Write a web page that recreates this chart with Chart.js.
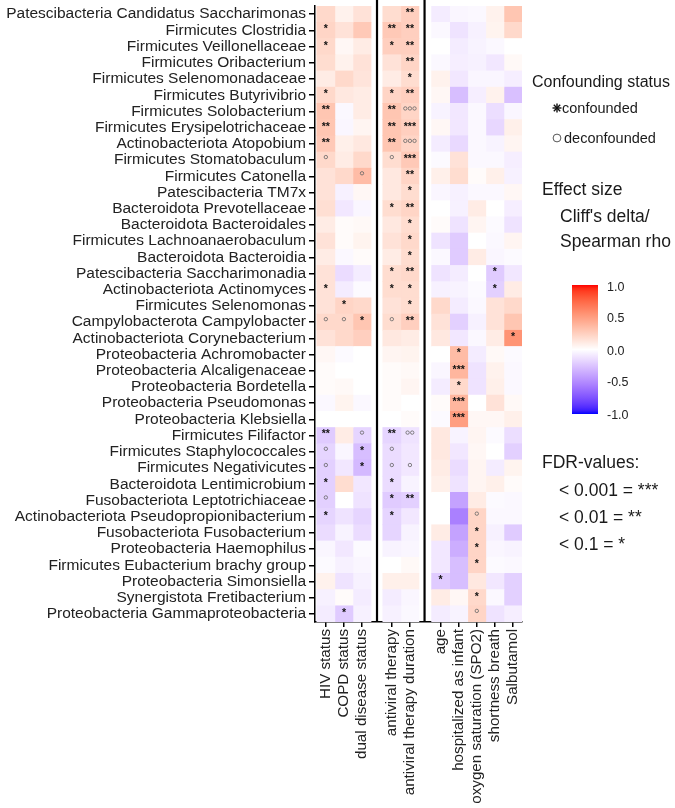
<!DOCTYPE html>
<html lang="en">
<head>
<meta charset="UTF-8" />
<title>Taxa effect sizes</title>
<script src="https://cdn.jsdelivr.net/npm/chart.js"></script>
<style>
  body { margin: 0; background: #fff; font-family: "Liberation Sans", Arial, sans-serif; color: #1a1a1a; }
  #wrap { position: relative; width: 675px; height: 808px; }
  .lg { position: absolute; white-space: nowrap; line-height: 1; transform: translateY(-50%); }
  .big { font-size: 17.5px; }
  .mid { font-size: 14.5px; }
  .cb { font-size: 12.5px; color: #222; }
  #bar { position: absolute; left: 572px; top: 285px; width: 26px; height: 129px; }
</style>
</head>
<body>
<div id="wrap">
  <canvas id="heat"></canvas>

  <div class="lg" style="left:532px; top:82px; font-size:16px;">Confounding status</div>
  <svg class="lg" style="left:552px; top:108px;" width="10" height="10" viewBox="-5 -5 10 10">
    <g stroke="#111" stroke-width="1.4">
      <line x1="-4.5" y1="0" x2="4.5" y2="0"/><line x1="0" y1="-4.5" x2="0" y2="4.5"/>
      <line x1="-3.2" y1="-3.2" x2="3.2" y2="3.2"/><line x1="-3.2" y1="3.2" x2="3.2" y2="-3.2"/>
    </g>
  </svg>
  <div class="lg mid" style="left:562px; top:108px;">confounded</div>
  <svg class="lg" style="left:552px; top:138px;" width="10" height="10" viewBox="-5 -5 10 10">
    <circle r="3.9" fill="none" stroke="#444" stroke-width="0.9"/>
  </svg>
  <div class="lg mid" style="left:564px; top:138px;">deconfounded</div>

  <div class="lg big" style="left:542px; top:190px;">Effect size</div>
  <div class="lg big" style="left:560px; top:217px;">Cliff's delta/</div>
  <div class="lg big" style="left:560px; top:242px;">Spearman rho</div>

  <div id="bar"></div>
  <div class="lg cb" style="left:607px; top:287px;">1.0</div>
  <div class="lg cb" style="left:607px; top:318px;">0.5</div>
  <div class="lg cb" style="left:607px; top:351px;">0.0</div>
  <div class="lg cb" style="left:607px; top:382px;">-0.5</div>
  <div class="lg cb" style="left:607px; top:415px;">-1.0</div>

  <div class="lg big" style="left:542px; top:463px;">FDR-values:</div>
  <div class="lg big" style="left:559px; top:491px;">&lt; 0.001 = ***</div>
  <div class="lg big" style="left:559px; top:518px;">&lt; 0.01 = **</div>
  <div class="lg big" style="left:559px; top:545px;">&lt; 0.1 = *</div>
</div>

<script>
// ---- data ----
const taxa = [
  'Patescibacteria Candidatus Saccharimonas', 'Firmicutes Clostridia', 'Firmicutes Veillonellaceae',
  'Firmicutes Oribacterium', 'Firmicutes Selenomonadaceae', 'Firmicutes Butyrivibrio',
  'Firmicutes Solobacterium', 'Firmicutes Erysipelotrichaceae', 'Actinobacteriota Atopobium',
  'Firmicutes Stomatobaculum', 'Firmicutes Catonella', 'Patescibacteria TM7x',
  'Bacteroidota Prevotellaceae', 'Bacteroidota Bacteroidales', 'Firmicutes Lachnoanaerobaculum',
  'Bacteroidota Bacteroidia', 'Patescibacteria Saccharimonadia', 'Actinobacteriota Actinomyces',
  'Firmicutes Selenomonas', 'Campylobacterota Campylobacter', 'Actinobacteriota Corynebacterium',
  'Proteobacteria Achromobacter', 'Proteobacteria Alcaligenaceae', 'Proteobacteria Bordetella',
  'Proteobacteria Pseudomonas', 'Proteobacteria Klebsiella', 'Firmicutes Filifactor',
  'Firmicutes Staphylococcales', 'Firmicutes Negativicutes', 'Bacteroidota Lentimicrobium',
  'Fusobacteriota Leptotrichiaceae', 'Actinobacteriota Pseudopropionibacterium', 'Fusobacteriota Fusobacterium',
  'Proteobacteria Haemophilus', 'Firmicutes Eubacterium brachy group', 'Proteobacteria Simonsiella',
  'Synergistota Fretibacterium', 'Proteobacteria Gammaproteobacteria'
];

const colLabels = ['HIV status', 'COPD status', 'dual disease status',
  'antiviral therapy', 'antiviral therapy duration',
  'age', 'hospitalized as infant', 'oxygen saturation (SPO2)', 'shortness breath', 'Salbutamol'];

// effect size per column, one value per taxon (top to bottom)
const hivStatus = [0.2,0.22,0.2,0.18,0.1,0.2,0.3,0.3,0.28,0.2,0.15,0.15,0.17,0.1,0.15,0.1,0.15,0.15,0.15,0.2,
  0.15,0.04,0.02,0.02,-0.03,0,-0.22,-0.18,-0.2,-0.2,-0.2,-0.18,-0.15,-0.04,-0.02,0.07,-0.06,-0.08];
const copdStatus = [0.07,0.15,0.04,0.07,0.2,0.12,-0.03,-0.04,0.08,0.1,0.2,-0.06,-0.1,0.02,0.02,-0.03,-0.15,-0.08,0.22,0.2,
  0.2,-0.02,0,0.03,0.06,0,0.1,-0.04,-0.1,0.18,0,-0.12,-0.05,-0.1,-0.06,-0.12,0.02,-0.22];
const dualStatus = [0.15,0.28,0.1,0.15,0.14,0.1,0.1,0.05,0.12,0.2,0.35,0.04,-0.04,0.03,0.06,0.02,-0.08,-0.02,0.2,0.3,
  0.25,0,0,0,-0.03,0,-0.18,-0.28,-0.3,-0.1,-0.12,-0.18,-0.15,-0.02,-0.04,-0.06,-0.08,-0.06];
const antiviral = [0.18,0.28,0.25,0.15,0.1,0.22,0.3,0.3,0.3,0.18,0.12,0.12,0.18,0.12,0.15,0.1,0.18,0.18,0.15,0.18,
  0.12,0.05,0.02,0.02,0.02,0,-0.18,-0.15,-0.15,-0.15,-0.22,-0.18,-0.18,-0.05,0,0.08,-0.08,-0.06];
const antiviralDur = [0.25,0.25,0.25,0.22,0.18,0.25,0.22,0.25,0.22,0.28,0.22,0.18,0.22,0.18,0.2,0.18,0.2,0.18,0.18,0.25,
  0.1,0.06,0.03,0.05,0,0.02,-0.12,-0.1,-0.1,-0.05,-0.2,-0.1,-0.05,-0.04,0.03,0.08,-0.04,-0.03];
const age = [-0.08,-0.03,0,-0.03,0.07,0.04,-0.05,0.04,-0.08,-0.02,0.08,-0.04,0,0.02,-0.12,-0.03,-0.12,-0.06,0.2,0.15,
  0.12,0,-0.04,-0.08,0.02,-0.02,0.12,0.12,0.1,0.08,0,0,0.1,-0.1,-0.1,-0.22,0.1,-0.08];
const hospitalized = [-0.04,-0.12,-0.08,-0.07,-0.1,-0.28,-0.1,-0.1,-0.16,0.15,0.18,-0.06,-0.06,-0.12,-0.22,-0.22,-0.08,-0.05,-0.08,-0.2,
  -0.1,0.35,0.38,0.2,0.38,0.5,-0.05,-0.1,-0.15,-0.12,-0.4,-0.55,-0.4,-0.35,-0.28,-0.28,0.04,-0.05];
const spo2 = [-0.03,-0.06,-0.05,-0.06,-0.04,-0.07,-0.03,-0.03,-0.03,-0.03,0.02,-0.03,0.1,0.05,0,0.1,0,-0.02,-0.03,-0.06,
  -0.03,-0.08,-0.12,-0.12,0,0.04,0.05,0.04,0.05,0.05,0.1,0.22,0.22,0.22,0.22,0.12,0.2,0.22];
const shortBreath = [0.07,0.06,-0.03,-0.1,-0.04,0.07,-0.14,-0.17,-0.05,-0.03,0.08,-0.03,0,-0.02,-0.03,-0.04,-0.22,-0.2,0.15,0.15,
  0.1,0.03,0.07,0.08,0.15,0.04,-0.02,0,-0.08,0.08,-0.02,-0.03,-0.06,-0.04,-0.02,-0.1,-0.03,-0.12];
const salbutamol = [0.3,0.2,0,0.03,-0.07,-0.27,-0.04,0.08,0.05,-0.07,-0.06,0.04,-0.07,-0.12,0.05,-0.02,-0.1,0.1,0.2,0.3,
  0.55,-0.02,-0.03,-0.03,0.03,0.08,-0.14,-0.2,0.06,0.02,-0.03,-0.03,-0.22,-0.05,-0.03,-0.2,-0.2,-0.07];

// significance marks per column, keyed by taxon row (1 = top); o = deconfounded
const hivMarks = {2:'*',3:'*',6:'*',7:'**',8:'**',9:'**',10:'o',18:'*',20:'o',27:'**',28:'o',29:'o',30:'*',31:'o',32:'*'};
const copdMarks = {19:'*',20:'o',38:'*'};
const dualMarks = {11:'o',20:'*',27:'o',28:'*',29:'*'};
const antiviralMarks = {2:'**',3:'*',6:'*',7:'**',8:'**',9:'**',10:'o',13:'*',17:'*',18:'*',20:'o',27:'**',28:'o',29:'o',30:'*',31:'*',32:'*'};
const antiviralDurMarks = {1:'**',2:'**',3:'**',4:'**',5:'*',6:'**',7:'ooo',8:'***',9:'ooo',10:'***',11:'**',12:'*',13:'**',
  14:'*',15:'*',16:'*',17:'**',18:'*',19:'*',20:'**',27:'oo',29:'o',31:'**'};
const ageMarks = {36:'*'};
const hospitalizedMarks = {22:'*',23:'***',24:'*',25:'***',26:'***'};
const spo2Marks = {32:'o',33:'*',34:'*',35:'*',37:'*',38:'o'};
const shortBreathMarks = {17:'*',18:'*'};
const salbutamolMarks = {21:'*'};

const effects = [hivStatus, copdStatus, dualStatus, antiviral, antiviralDur, age, hospitalized, spo2, shortBreath, salbutamol];
const marks = [hivMarks, copdMarks, dualMarks, antiviralMarks, antiviralDurMarks, ageMarks, hospitalizedMarks, spo2Marks, shortBreathMarks, salbutamolMarks];

// ---- layout of the three panels on one linear axis ----
const colX = [0, 1, 2, 3.65, 4.65, 6.35, 7.35, 8.35, 9.35, 10.35];
const panelBreaks = [2.83, 5.46];

// blue - white - red, interpolated in Lab like ggplot's gradient2
function toLin(c) { c /= 255; return c <= 0.04045 ? c / 12.92 : Math.pow((c + 0.055) / 1.055, 2.4); }
function toSrgb(c) { c = c <= 0.0031308 ? 12.92 * c : 1.055 * Math.pow(c, 1 / 2.4) - 0.055; return Math.round(Math.max(0, Math.min(1, c)) * 255); }
function rgbToLab(rgb) {
  const [r, g, b] = rgb.map(toLin);
  const X = (0.4124564 * r + 0.3575761 * g + 0.1804375 * b) / 0.95047;
  const Y = 0.2126729 * r + 0.7151522 * g + 0.0721750 * b;
  const Z = (0.0193339 * r + 0.1191920 * g + 0.9503041 * b) / 1.08883;
  const f = t => t > 0.008856 ? Math.cbrt(t) : 7.787 * t + 16 / 116;
  return [116 * f(Y) - 16, 500 * (f(X) - f(Y)), 200 * (f(Y) - f(Z))];
}
function labToRgb([L, A, B]) {
  const fy = (L + 16) / 116, fx = fy + A / 500, fz = fy - B / 200;
  const inv = t => t * t * t > 0.008856 ? t * t * t : (t - 16 / 116) / 7.787;
  const X = inv(fx) * 0.95047, Y = inv(fy), Z = inv(fz) * 1.08883;
  const r = 3.2404542 * X - 1.5371385 * Y - 0.4985314 * Z;
  const g = -0.9692660 * X + 1.8760108 * Y + 0.0415560 * Z;
  const b = 0.0556434 * X - 0.2040259 * Y + 1.0572252 * Z;
  return [toSrgb(r), toSrgb(g), toSrgb(b)];
}
const labWhite = rgbToLab([255, 255, 255]), labRed = rgbToLab([255, 0, 0]), labBlue = rgbToLab([0, 0, 255]);
function fillFor(v) {
  v = Math.max(-1, Math.min(1, v));
  const end = v >= 0 ? labRed : labBlue, t = Math.abs(v);
  const c = labToRgb(labWhite.map((w, i) => w + t * (end[i] - w)));
  return `rgb(${c[0]},${c[1]},${c[2]})`;
}

// colour bar
const stops = [];
for (let i = 0; i <= 40; i++) { const v = -1 + i / 20; stops.push(`${fillFor(v)} ${(i / 40 * 100).toFixed(1)}%`); }
document.getElementById('bar').style.background = `linear-gradient(to top, ${stops.join(',')})`;

const fontFamily = '"Liberation Sans", Arial, sans-serif';

const overlay = {
  id: 'overlay',
  afterDatasetsDraw(chart) {
    const { ctx, chartArea: a, scales: { x, y } } = chart;
    ctx.save();
    marks.forEach((m, c) => {
      Object.entries(m).forEach(([row, mk]) => {
        const px = x.getPixelForValue(colX[c]);
        const py = y.getPixelForValue(+row - 1);
        if (mk[0] === '*') {
          ctx.font = 'bold 10.5px "Liberation Sans", Arial';
          ctx.textAlign = 'center';
          ctx.textBaseline = 'middle';
          ctx.fillStyle = '#111';
          ctx.fillText(mk, px, py - 1);
        } else {
          ctx.strokeStyle = '#666';
          ctx.lineWidth = 0.8;
          for (let i = 0; i < mk.length; i++) {
            ctx.beginPath();
            ctx.arc(px + (i - (mk.length - 1) / 2) * 4.6, py - 3, 1.7, 0, Math.PI * 2);
            ctx.stroke();
          }
        }
      });
    });
    ctx.strokeStyle = '#000';
    ctx.lineWidth = 2.2;
    panelBreaks.forEach(v => {
      const px = x.getPixelForValue(v);
      ctx.beginPath(); ctx.moveTo(px, 0); ctx.lineTo(px, a.bottom); ctx.stroke();
    });
    ctx.restore();
  }
};

new Chart(document.getElementById('heat'), {
  type: 'bar',
  data: {
    labels: taxa,
    datasets: effects.map((vals, c) => ({
      label: colLabels[c],
      data: taxa.map(() => [colX[c] - 0.5, colX[c] + 0.5]),
      backgroundColor: vals.map(fillFor),
      borderWidth: 0,
      barPercentage: 1,
      categoryPercentage: 1,
      grouped: false
    }))
  },
  options: {
    indexAxis: 'y',
    animation: false,
    responsive: true,
    maintainAspectRatio: false,
    layout: { padding: { top: 3.5, right: 153, left: 0, bottom: 0 } },
    plugins: { legend: { display: false }, tooltip: { enabled: false } },
    scales: {
      x: {
        type: 'linear', min: -0.6, max: 10.85,
        afterBuildTicks(s) { s.ticks = colX.map(v => ({ value: v })); },
        afterFit(s) { s.height = 186; },
        ticks: { autoSkip: false, minRotation: 90, maxRotation: 90, padding: 2, color: '#222',
          font: { family: fontFamily, size: 15.2 }, callback: (v, i) => colLabels[i] },
        grid: { drawOnChartArea: false, tickLength: 5, tickColor: '#000', lineWidth: 1.5 },
        border: { display: true, color: '#000', width: 1.5 }
      },
      y: {
        type: 'category',
        afterFit(s) { s.width = 315; },
        ticks: { autoSkip: false, padding: 3, color: '#222', font: { family: fontFamily, size: 15.5, lineHeight: 0.4 } },
        grid: { offset: false, drawOnChartArea: false, tickLength: 6, tickColor: '#000', lineWidth: 1.5 },
        border: { display: true, color: '#000', width: 1.5 }
      }
    }
  },
  plugins: [overlay]
});
</script>
</body>
</html>
